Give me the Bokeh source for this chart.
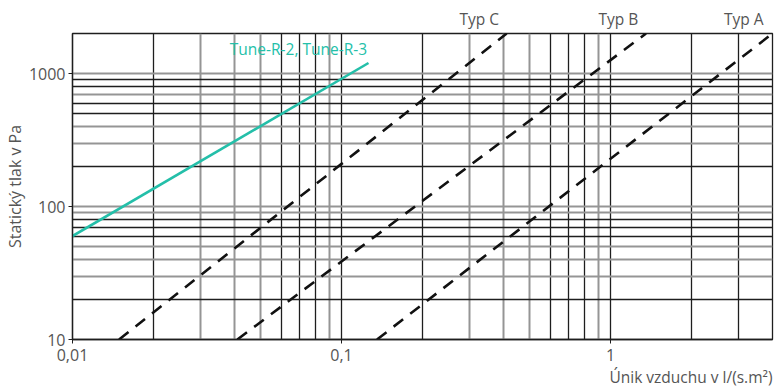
from bokeh.plotting import figure
from bokeh.models import FixedTicker, Grid, Label, Title, Range1d, LogAxis
from bokeh.embed import file_html
from bokeh.resources import INLINE

# ---- data ----
x_ticks = [0.01, 0.1, 1]
x_tick_labels = ["0,01", "0,1", "1"]
y_ticks = [10, 100, 1000]
y_tick_labels = ["10", "100", "1000"]

tune_x = [0.01, 0.126]
tune_y = [60, 1200]

typ_c_x = [0.0149, 0.411]
typ_c_y = [10, 2000]
typ_b_x = [0.041, 1.355]
typ_b_y = [10, 2000]
typ_a_x = [0.1355, 4.0]
typ_a_y = [10, 2000]

typ_names = ["Typ C", "Typ B", "Typ A"]
typ_label_x = [0.325, 1.07, 3.13]

x_grid_dark = [0.02, 0.06, 0.07, 0.08, 0.1, 0.2, 0.6, 0.7, 0.8, 1, 2, 3]
x_grid_gray = [0.03, 0.04, 0.05, 0.09, 0.3, 0.4, 0.5, 0.9]
y_grid_dark = [20, 60, 70, 80, 200, 500, 600, 800, 900]
y_grid_gray = [30, 40, 50, 90, 100, 300, 400, 700, 1000]

FONT = "Open Sans"
TEXT_C = "#555555"
DARK = "#1e1e1e"
GRAY = "#959595"
TEAL = "#24bfa9"

p = figure(width=776, height=391, x_axis_type="log", y_axis_type="log",
           x_range=Range1d(0.01, 4), y_range=Range1d(10, 2000),
           output_backend="svg", toolbar_location=None,
           min_border_left=70, min_border_right=4, min_border_top=33,
           min_border_bottom=52)

p.outline_line_color = DARK
p.outline_line_width = 1.3
p.background_fill_color = "white"
p.border_fill_color = "white"

for g in p.xgrid + p.ygrid:
    g.visible = False

p.add_layout(Grid(dimension=0, ticker=FixedTicker(ticks=x_grid_gray),
                  grid_line_color=GRAY, grid_line_width=2))
p.add_layout(Grid(dimension=0, ticker=FixedTicker(ticks=x_grid_dark),
                  grid_line_color=DARK, grid_line_width=1.3))
p.add_layout(Grid(dimension=1, ticker=FixedTicker(ticks=y_grid_gray),
                  grid_line_color=GRAY, grid_line_width=2))
p.add_layout(Grid(dimension=1, ticker=FixedTicker(ticks=y_grid_dark),
                  grid_line_color=DARK, grid_line_width=1.3))

p.xaxis.ticker = FixedTicker(ticks=x_ticks, minor_ticks=[])
p.xaxis.major_label_overrides = {t: l for t, l in zip(x_ticks, x_tick_labels)}
p.yaxis.ticker = FixedTicker(ticks=y_ticks, minor_ticks=[])
p.yaxis.major_label_overrides = {t: l for t, l in zip(y_ticks, y_tick_labels)}

for ax in (p.xaxis[0], p.yaxis[0]):
    ax.axis_line_color = DARK
    ax.axis_line_width = 1.3
    ax.major_tick_line_color = DARK
    ax.major_tick_out = 4
    ax.major_tick_in = 0
    ax.minor_tick_out = 0
    ax.minor_tick_in = 0
    ax.major_label_text_font = FONT
    ax.major_label_text_font_size = "16px"
    ax.major_label_text_color = TEXT_C
p.xaxis.major_label_standoff = 5
p.yaxis.major_label_standoff = 3

p.yaxis.axis_label = "Statický tlak v Pa"
p.yaxis.axis_label_text_font = FONT
p.yaxis.axis_label_text_font_size = "16px"
p.yaxis.axis_label_text_font_style = "normal"
p.yaxis.axis_label_text_color = TEXT_C
p.yaxis.axis_label_standoff = 0

# type labels above the frame, as an extra axis without line/ticks
top_axis = LogAxis(ticker=FixedTicker(ticks=typ_label_x, minor_ticks=[]),
                   major_label_overrides={t: n for t, n in zip(typ_label_x, typ_names)},
                   axis_line_color=None, major_tick_line_color=None,
                   minor_tick_line_color=None, major_tick_out=0, major_tick_in=0,
                   major_label_standoff=4, major_label_text_font=FONT,
                   major_label_text_font_size="15.5px", major_label_text_color=TEXT_C)
p.add_layout(top_axis, "above")

xt = Title(text="Únik vzduchu v l/(s.m²)", align="right",
           text_font=FONT, text_font_size="15.5px", text_font_style="normal",
           text_color=TEXT_C, standoff=0, offset=0)
p.add_layout(xt, "below")

p.line(typ_c_x, typ_c_y, line_color="#111111", line_width=2.6, line_dash="12 9")
p.line(typ_b_x, typ_b_y, line_color="#111111", line_width=2.6, line_dash="12 9")
p.line(typ_a_x, typ_a_y, line_color="#111111", line_width=2.6, line_dash="12 9")
p.line(tune_x, tune_y, line_color=TEAL, line_width=2.6)

p.add_layout(Label(x=0.1245, y=1530, text="Tune-R-2, Tune-R-3", text_align="right",
                   text_baseline="middle", text_font=FONT, text_font_size="15.5px",
                   text_color=TEAL))

open("out.html", "w").write(file_html(p, INLINE))
